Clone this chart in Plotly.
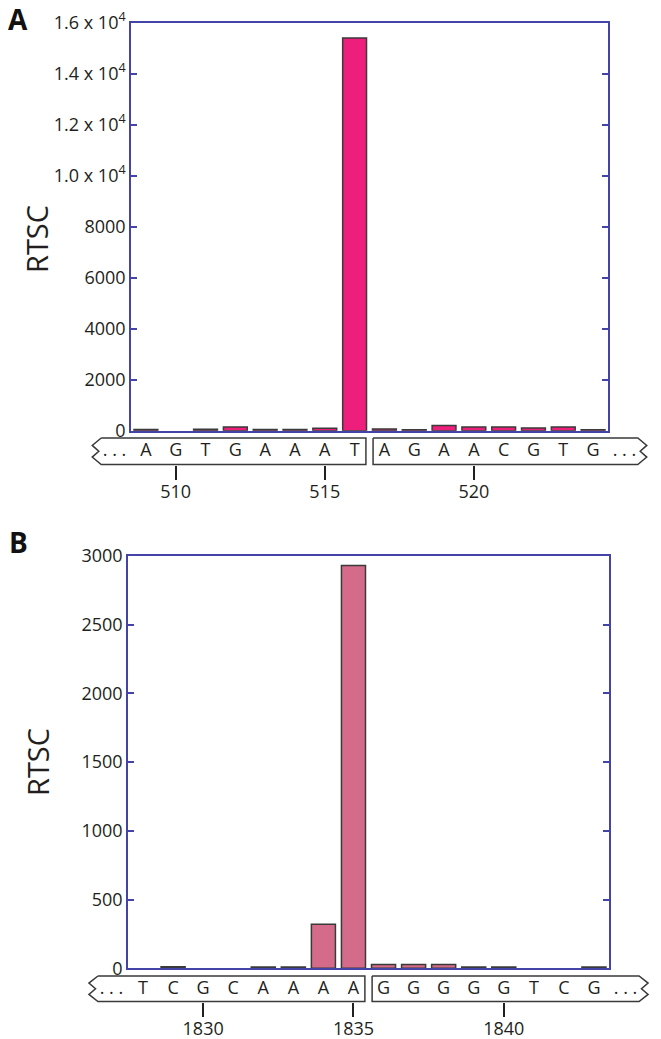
import plotly.graph_objects as go

W, H = 661, 1039
OFF = 8  # page body margin of the html page, in px

# ---------------- data ----------------
# Panel A
pos_a = list(range(509, 525))
rtsc_a = [50, 0, 60, 150, 50, 50, 100, 15400, 70, 40, 200, 150, 150, 110, 150, 40]
seq_a_left = ["A", "G", "T", "G", "A", "A", "A", "T"]
seq_a_right = ["A", "G", "A", "A", "C", "G", "T", "G"]
xticks_a = [510, 515, 520]
yticks_a = [0, 2000, 4000, 6000, 8000, 10000, 12000, 14000, 16000]
yticktext_a = ["0", "2000", "4000", "6000", "8000",
               "1.0 x 10<sup>4</sup>", "1.2 x 10<sup>4</sup>",
               "1.4 x 10<sup>4</sup>", "1.6 x 10<sup>4</sup>"]

# Panel B
pos_b = list(range(1828, 1844))
rtsc_b = [0, 12, 0, 0, 10, 10, 320, 2930, 28, 28, 28, 10, 10, 0, 0, 10]
seq_b_left = ["T", "C", "G", "C", "A", "A", "A", "A"]
seq_b_right = ["G", "G", "G", "G", "G", "T", "C", "G"]
xticks_b = [1830, 1835, 1840]
yticks_b = [0, 500, 1000, 1500, 2000, 2500, 3000]
yticktext_b = [str(v) for v in yticks_b]

# ---------------- style ----------------
FONT = "Open Sans"
TXT = "#231f20"
BLUE = "#4343a8"
EDGE = "#3a3a3a"
FILL_A = "#ee1e7c"
FILL_B = "#d46b8a"


def fx(p):
    return (p - OFF) / W


def fy(p):
    return 1 - (p - OFF) / H


fig = go.Figure()

panels = [
    dict(pos=pos_a, vals=rtsc_a, sl=seq_a_left, sr=seq_a_right, xt=xticks_a,
         yt=yticks_a, ytt=yticktext_a, fill=FILL_A,
         box=(131, 608, 22.7, 430.7), strip=(438, 464.5), ymax=16000,
         label="A", label_y=19, title_y=239),
    dict(pos=pos_b, vals=rtsc_b, sl=seq_b_left, sr=seq_b_right, xt=xticks_b,
         yt=yticks_b, ytt=yticktext_b, fill=FILL_B,
         box=(128, 609, 556, 968.3), strip=(976, 1001.5), ymax=3000,
         label="B", label_y=542, title_y=762),
]

layout = dict(width=W, height=H, autosize=False, template="none",
              margin=dict(l=0, r=0, t=0, b=0, pad=0),
              paper_bgcolor="white", plot_bgcolor="white",
              showlegend=False, annotations=[],
              font=dict(family=FONT, color=TXT))

STRIP_L, STRIP_R = 80, 660

for i, p in enumerate(panels):
    mx = "x" if i == 0 else "x3"
    my = "y" if i == 0 else "y3"
    sx = "x2" if i == 0 else "x4"
    sy = "y2" if i == 0 else "y4"
    mxk = "xaxis" if i == 0 else "xaxis3"
    myk = "yaxis" if i == 0 else "yaxis3"
    sxk = "xaxis2" if i == 0 else "xaxis4"
    syk = "yaxis2" if i == 0 else "yaxis4"

    pos = p["pos"]
    n = len(pos)
    x0, x1 = pos[0] - 0.5, pos[-1] + 0.5
    l, r, t, b = p["box"]
    scale = (r - l) / (x1 - x0)

    fig.add_trace(go.Bar(
        x=pos, y=p["vals"], width=0.8, xaxis=mx, yaxis=my,
        marker=dict(color=p["fill"],
                    line=dict(color=EDGE,
                              width=[1.5 if v > 0 else 0 for v in p["vals"]])),
        hoverinfo="x+y"))

    layout[mxk] = dict(domain=[fx(l), fx(r)], range=[x0, x1], anchor=my,
                       automargin=False,
                       showline=True, mirror=True, linecolor=BLUE, linewidth=1.5,
                       ticks="", showticklabels=False, showgrid=False,
                       zeroline=False, fixedrange=True)
    layout[myk] = dict(domain=[fy(b), fy(t)], range=[0, p["ymax"]], anchor=mx,
                       automargin=False,
                       showline=True, mirror="ticks", linecolor=BLUE,
                       linewidth=1.5, ticks="inside", ticklen=6, tickwidth=1.5,
                       tickcolor=BLUE, tickmode="array", tickvals=p["yt"],
                       ticktext=p["ytt"], tickfont=dict(size=18, color=TXT,
                                                        family=FONT),
                       showgrid=False, zeroline=False, fixedrange=True)

    # ---- sequence strip subplot ----
    st, sb = p["strip"]
    sh = sb - st
    pad = 4
    dom_t, dom_b = st - pad, sb + pad
    s_x0 = x0 - (l - STRIP_L) / scale
    s_x1 = x0 + (STRIP_R - l) / scale
    layout[sxk] = dict(domain=[fx(STRIP_L), fx(STRIP_R)], range=[s_x0, s_x1],
                       anchor="free", position=fy(sb), side="bottom",
                       automargin=False,
                       showline=False, ticks="outside", ticklen=14,
                       tickwidth=1.5, tickcolor=TXT, tickmode="array",
                       tickvals=p["xt"], ticktext=[str(v) for v in p["xt"]],
                       tickfont=dict(size=18, color=TXT, family=FONT),
                       ticklabelstandoff=-3,
                       showgrid=False, zeroline=False, fixedrange=True)
    layout[syk] = dict(domain=[fy(dom_b), fy(dom_t)],
                       range=[-pad / sh, 1 + pad / sh], anchor=sx,
                       automargin=False, visible=False, fixedrange=True)

    split = (pos[len(p["sl"]) - 1] + pos[len(p["sl"])]) / 2
    gap = 0.12
    zl = pos[0] - 1.8
    zr = pos[-1] + 1.8
    # left box
    bx = [zl + 0.3, split - gap, split - gap, zl + 0.3, zl, zl + 0.22, zl, zl + 0.3]
    by = [1, 1, 0, 0, 0.28, 0.5, 0.72, 1]
    fig.add_trace(go.Scatter(x=bx, y=by, mode="lines", xaxis=sx, yaxis=sy,
                             line=dict(color=EDGE, width=1.5), hoverinfo="skip"))
    # right box
    bx = [split + gap, zr - 0.3, zr, zr - 0.22, zr, zr - 0.3, split + gap, split + gap]
    by = [1, 1, 0.72, 0.5, 0.28, 0, 0, 1]
    fig.add_trace(go.Scatter(x=bx, y=by, mode="lines", xaxis=sx, yaxis=sy,
                             line=dict(color=EDGE, width=1.5), hoverinfo="skip"))
    # letters
    letters = p["sl"] + p["sr"]
    fig.add_trace(go.Scatter(x=pos, y=[0.48] * n, mode="text", text=letters,
                             textposition="middle center", xaxis=sx, yaxis=sy,
                             textfont=dict(size=18, color=TXT, family=FONT),
                             hoverinfo="skip"))
    fig.add_trace(go.Scatter(x=[pos[0] - 1.05, pos[-1] + 1.05], y=[0.48, 0.48],
                             mode="text", text=[". . .", ". . ."],
                             textposition="middle center", xaxis=sx, yaxis=sy,
                             textfont=dict(size=18, color=TXT, family=FONT),
                             hoverinfo="skip"))

    layout["annotations"].append(dict(
        text="<b>%s</b>" % p["label"], x=fx(18), y=fy(p["label_y"]),
        xref="paper", yref="paper", showarrow=False, xanchor="center",
        yanchor="middle", font=dict(size=28, color="#111", family=FONT)))
    layout["annotations"].append(dict(
        text="RTSC", x=fx(37), y=fy(p["title_y"]), xref="paper", yref="paper",
        showarrow=False, textangle=-90, xanchor="center", yanchor="middle",
        font=dict(size=29, color=TXT, family=FONT)))

fig.update_layout(**layout)
fig.write_html("out.html")
